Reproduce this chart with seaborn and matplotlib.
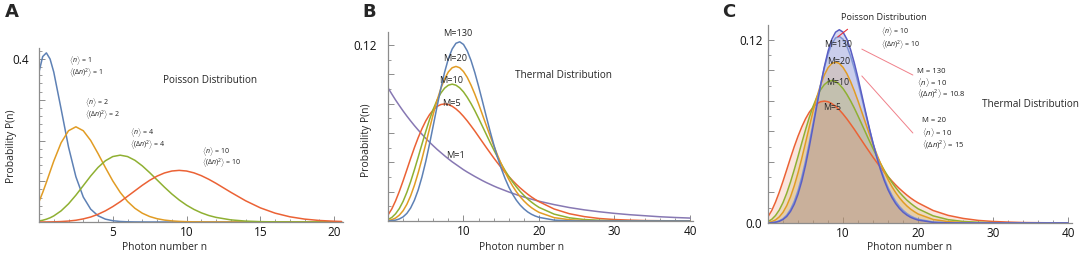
import numpy as np
import pandas as pd
import matplotlib
matplotlib.use("Agg")
import matplotlib.pyplot as plt
from matplotlib.ticker import MultipleLocator, FixedLocator
import seaborn as sns

# ---------------- data ----------------
n_a = [0, 0.25, 0.5, 0.75, 1, 1.5, 2, 2.5, 3, 3.5, 4, 4.5, 5, 5.5, 6, 6.5, 7, 7.5,
       8, 8.5, 9, 9.5, 10, 10.5, 11, 11.5, 12, 13, 14, 15, 16, 17, 18, 19, 20, 20.5]
pois_1 = [0.368, 0.406, 0.415, 0.400, 0.368, 0.277, 0.184, 0.111, 0.0613, 0.0316, 0.0153,
          0.0070, 0.0031, 0.0013, 0.0005, 0.0002, 0.0001] + [0.0] * 19
pois_2 = [0.0498, 0.0723, 0.0973, 0.1235, 0.1494, 0.1946, 0.2240, 0.2336, 0.2240, 0.2002,
          0.1680, 0.1335, 0.1008, 0.0728, 0.0504, 0.0336, 0.0216, 0.0134, 0.0081, 0.0047,
          0.0027, 0.0015, 0.0008, 0.0004, 0.0002, 0.0001, 0.0001] + [0.0] * 9
pois_4 = [0.0025, 0.0043, 0.0069, 0.0103, 0.0149, 0.0274, 0.0446, 0.0658, 0.0892, 0.1128,
          0.1339, 0.1503, 0.1606, 0.1640, 0.1606, 0.1514, 0.1377, 0.1211, 0.1033, 0.0855,
          0.0688, 0.0540, 0.0413, 0.0309, 0.0225, 0.0160, 0.0113, 0.0052, 0.0022, 0.0009,
          0.0003, 0.0001, 0.0, 0.0, 0.0, 0.0]
pois_10 = [0.00005, 0.0001, 0.00015, 0.0003, 0.00045, 0.0011, 0.0023, 0.0043, 0.0076, 0.0122,
           0.0189, 0.0274, 0.0378, 0.0497, 0.0631, 0.0766, 0.0901, 0.1023, 0.1126, 0.1203,
           0.1251, 0.1267, 0.1251, 0.1206, 0.1137, 0.1049, 0.0948, 0.0729, 0.0521, 0.0347,
           0.0217, 0.0128, 0.0071, 0.0037, 0.0019, 0.0013]

n_bc = [0, 0.5, 1, 1.5, 2, 2.5, 3, 3.5, 4, 4.5, 5, 5.5, 6, 6.5, 7, 7.5, 8, 8.5, 9, 9.5,
        10, 10.5, 11, 11.5, 12, 12.5, 13, 13.5, 14, 14.5, 15, 15.5, 16, 16.5, 17, 17.5,
        18, 18.5, 19, 19.5, 20, 22, 24, 26, 28, 30, 32, 34, 36, 38, 40]
therm_m1 = [0.0909, 0.0867, 0.0826, 0.0788, 0.0751, 0.0716, 0.0683, 0.0651, 0.0621, 0.0592,
            0.0564, 0.0538, 0.0513, 0.0489, 0.0467, 0.0445, 0.0424, 0.0404, 0.0386, 0.0368,
            0.0350, 0.0334, 0.0319, 0.0304, 0.0290, 0.0276, 0.0263, 0.0251, 0.0239, 0.0228,
            0.0218, 0.0208, 0.0198, 0.0189, 0.0180, 0.0171, 0.0164, 0.0156, 0.0149, 0.0142,
            0.0135, 0.0112, 0.0092, 0.0076, 0.0063, 0.0052, 0.0043, 0.0036, 0.0029, 0.0024, 0.0020]
therm_m5 = [0.0041, 0.0082, 0.0137, 0.0202, 0.0274, 0.0350, 0.0427, 0.0501, 0.0569, 0.0630,
            0.0683, 0.0726, 0.0759, 0.0782, 0.0795, 0.0799, 0.0795, 0.0783, 0.0765, 0.0742,
            0.0714, 0.0683, 0.0649, 0.0614, 0.0577, 0.0540, 0.0503, 0.0467, 0.0431, 0.0397,
            0.0364, 0.0333, 0.0304, 0.0276, 0.0250, 0.0226, 0.0204, 0.0183, 0.0164, 0.0147,
            0.0132, 0.0082, 0.0050, 0.0030, 0.0017, 0.0010, 0.0006, 0.0003, 0.0002, 0.0001, 0.0001]
therm_m10 = [0.0010, 0.0024, 0.0049, 0.0085, 0.0134, 0.0196, 0.0269, 0.0350, 0.0436, 0.0525,
             0.0611, 0.0692, 0.0764, 0.0825, 0.0873, 0.0907, 0.0927, 0.0934, 0.0927, 0.0909,
             0.0881, 0.0844, 0.0801, 0.0753, 0.0701, 0.0647, 0.0593, 0.0539, 0.0487, 0.0437,
             0.0390, 0.0345, 0.0304, 0.0267, 0.0233, 0.0202, 0.0175, 0.0150, 0.0129, 0.0110,
             0.0093, 0.0047, 0.0022, 0.0010, 0.0005, 0.0002, 0.0001, 0.0, 0.0, 0.0, 0.0]
therm_m20 = [0.0003, 0.0009, 0.0020, 0.0040, 0.0070, 0.0114, 0.0172, 0.0244, 0.0329, 0.0424,
             0.0526, 0.0630, 0.0731, 0.0824, 0.0904, 0.0970, 0.1018, 0.1046, 0.1055, 0.1046,
             0.1020, 0.0980, 0.0927, 0.0866, 0.0799, 0.0727, 0.0655, 0.0584, 0.0515, 0.0450,
             0.0389, 0.0334, 0.0284, 0.0239, 0.0200, 0.0166, 0.0137, 0.0112, 0.0091, 0.0074,
             0.0059, 0.0023, 0.0009, 0.0003, 0.0001, 0.0, 0.0, 0.0, 0.0, 0.0, 0.0]
therm_m130 = [0.0001, 0.0002, 0.0006, 0.0014, 0.0028, 0.0052, 0.0089, 0.0142, 0.0212, 0.0301,
              0.0406, 0.0525, 0.0653, 0.0782, 0.0906, 0.1016, 0.1108, 0.1174, 0.1213, 0.1223,
              0.1205, 0.1161, 0.1095, 0.1013, 0.0919, 0.0819, 0.0717, 0.0617, 0.0523, 0.0436,
              0.0359, 0.0291, 0.0232, 0.0183, 0.0142, 0.0109, 0.0083, 0.0062, 0.0046, 0.0034,
              0.0025, 0.0006, 0.0001, 0.0, 0.0, 0.0, 0.0, 0.0, 0.0, 0.0, 0.0]
poisson_c = [0.0, 0.0002, 0.0005, 0.0011, 0.0023, 0.0043, 0.0076, 0.0123, 0.0189, 0.0274,
             0.0378, 0.0499, 0.0631, 0.0767, 0.0901, 0.1023, 0.1126, 0.1204, 0.1251, 0.1267,
             0.1251, 0.1206, 0.1137, 0.1049, 0.0948, 0.0839, 0.0729, 0.0622, 0.0521, 0.0429,
             0.0347, 0.0277, 0.0217, 0.0168, 0.0128, 0.0096, 0.0071, 0.0052, 0.0037, 0.0027,
             0.0019, 0.0004, 0.0001, 0.0, 0.0, 0.0, 0.0, 0.0, 0.0, 0.0, 0.0]

labels_a = ["1", "2", "4", "10"]
labels_b = ["M=1", "M=5", "M=10", "M=20", "M=130"]

# ---------------- style ----------------
sns.set_style("ticks")
plt.rcParams["font.family"] = ["Open Sans", "DejaVu Sans"]
plt.rcParams["mathtext.fontset"] = "custom"
plt.rcParams["mathtext.rm"] = "Open Sans"
plt.rcParams["mathtext.it"] = "Open Sans:italic"

BLUE, ORANGE, GREEN, RED, PURPLE = "#5E81B5", "#E19C24", "#8FB032", "#EB6235", "#8778B3"
DEEP = "#5a5ec4"
AX = "#8c8c8c"

W, H = 1084, 258
fig = plt.figure(figsize=(W / 100, H / 100), dpi=100)


def add_ax(x0, x1, ybot, ytop):
    return fig.add_axes([x0 / W, 1 - ybot / H, (x1 - x0) / W, (ybot - ytop) / H])


def style(ax):
    sns.despine(ax=ax)
    for s in ("left", "bottom"):
        ax.spines[s].set_color(AX)
        ax.spines[s].set_linewidth(0.9)
    ax.tick_params(which="both", direction="in", color=AX, labelsize=8.5, labelcolor="#111")
    ax.tick_params(which="major", length=4, width=0.7)
    ax.tick_params(which="minor", length=2, width=0.6)
    ax.set_xlabel("")
    ax.set_ylabel("")


# ---------------- panel A ----------------
axA = add_ax(39, 343, 222, 48)
dfA = pd.DataFrame({
    "n": n_a * 4,
    "P": pois_1 + pois_2 + pois_4 + pois_10,
    "curve": sum([[l] * len(n_a) for l in labels_a], []),
})
sns.lineplot(data=dfA, x="n", y="P", hue="curve", hue_order=labels_a,
             palette=[BLUE, ORANGE, GREEN, RED], linewidth=1.1, legend=False,
             sort=True, ax=axA)
axA.set_xlim(0, 20.6)
axA.set_ylim(0, 0.427)
axA.xaxis.set_major_locator(FixedLocator([5, 10, 15, 20]))
axA.xaxis.set_minor_locator(MultipleLocator(1))
axA.yaxis.set_major_locator(FixedLocator([0.1, 0.2, 0.3, 0.4]))
axA.set_yticklabels(["", "", "", "0.4"])
axA.yaxis.set_minor_locator(MultipleLocator(0.02))
style(axA)
axA.tick_params(axis="y", pad=7)
axA.tick_params(axis="x", pad=3)

small = dict(fontsize=5, color="#222", va="center", ha="left")
for (xn, y1, y2, v) in [(2.03, 0.396, 0.366, "1"), (3.12, 0.294, 0.265, "2"),
                        (6.17, 0.219, 0.190, "4"), (11.04, 0.173, 0.145, "10")]:
    axA.text(xn, y1, r"$\langle n\rangle$ = " + v, **small)
    axA.text(xn, y2, r"$\langle(\Delta n)^2\rangle$ = " + v, **small)
axA.text(8.4, 0.348, "Poisson Distribution", fontsize=7.2, va="center", ha="left")

# ---------------- panel B ----------------
axB = add_ax(388, 693, 221, 32)
dfB = pd.DataFrame({
    "n": n_bc * 5,
    "P": therm_m1 + therm_m5 + therm_m10 + therm_m20 + therm_m130,
    "curve": sum([[l] * len(n_bc) for l in labels_b], []),
})
sns.lineplot(data=dfB, x="n", y="P", hue="curve", hue_order=labels_b,
             palette=[PURPLE, RED, GREEN, ORANGE, BLUE], linewidth=1.1, legend=False,
             sort=True, ax=axB)
axB.set_xlim(0, 40.4)
axB.set_ylim(0, 0.129)
axB.xaxis.set_major_locator(FixedLocator([10, 20, 30, 40]))
axB.xaxis.set_minor_locator(MultipleLocator(2))
axB.yaxis.set_major_locator(FixedLocator([0.02, 0.04, 0.06, 0.08, 0.10, 0.12]))
axB.set_yticklabels(["", "", "", "", "", "0.12"])
axB.yaxis.set_minor_locator(MultipleLocator(0.01))
style(axB)
axB.tick_params(axis="y", pad=8)
axB.tick_params(axis="x", pad=3)
for (xn, yv, t) in [(9.3, 0.128, "M=130"), (8.9, 0.111, "M=20"), (8.4, 0.096, "M=10"),
                    (8.4, 0.080, "M=5"), (9.0, 0.045, "M=1")]:
    axB.text(xn, yv, t, fontsize=6.6, ha="center", va="center", clip_on=False)
axB.text(16.8, 0.099, "Thermal Distribution", fontsize=7.2, va="center", ha="left")

# ---------------- panel C ----------------
axC = add_ax(768, 1072, 223, 25)
fills = [(poisson_c, "#9090d8", 0.34), (therm_m130, "#8ea2d8", 0.20),
         (therm_m20, ORANGE, 0.18), (therm_m10, GREEN, 0.16), (therm_m5, RED, 0.16)]
for vals, col, a in fills:
    axC.fill_between(n_bc, 0, vals, color=col, alpha=a, linewidth=0)
labels_c = ["M=5", "M=10", "M=20", "M=130", "Poisson"]
dfC = pd.DataFrame({
    "n": n_bc * 5,
    "P": therm_m5 + therm_m10 + therm_m20 + therm_m130 + poisson_c,
    "curve": sum([[l] * len(n_bc) for l in labels_c], []),
})
sns.lineplot(data=dfC, x="n", y="P", hue="curve", hue_order=labels_c,
             palette=[RED, GREEN, ORANGE, "#7f95d6", DEEP], linewidth=1.1, legend=False,
             sort=True, ax=axC)
axC.set_xlim(0, 40.5)
axC.set_ylim(0, 0.1298)
axC.xaxis.set_major_locator(FixedLocator([10, 20, 30, 40]))
axC.xaxis.set_minor_locator(MultipleLocator(2))
axC.yaxis.set_major_locator(FixedLocator([0.0, 0.02, 0.04, 0.06, 0.08, 0.10, 0.12]))
axC.set_yticklabels(["0.0", "", "", "", "", "", "0.12"])
axC.yaxis.set_minor_locator(MultipleLocator(0.01))
style(axC)
axC.tick_params(axis="y", pad=4)
axC.tick_params(axis="x", pad=3)
for (xn, yv, t) in [(9.4, 0.117, "M=130"), (9.4, 0.106, "M=20"), (9.3, 0.092, "M=10"),
                    (8.6, 0.076, "M=5")]:
    axC.text(xn, yv, t, fontsize=6.3, ha="center", va="center")
axC.text(15.5, 0.1345, "Poisson Distribution", fontsize=6.6, ha="center", va="center", clip_on=False)
axC.plot([9.3, 10.6], [0.122, 0.127], color="#e8303a", lw=0.8, clip_on=False)
axC.text(15.1, 0.1258, r"$\langle n\rangle$ = 10", **small)
axC.text(15.1, 0.1172, r"$\langle(\Delta n)^2\rangle$ = 10", **small)
mid = dict(fontsize=5.5, color="#222", va="center", ha="left")
axC.text(19.9, 0.099, "M = 130", **mid)
axC.text(19.9, 0.0922, r"$\langle n\rangle$ = 10", **mid)
axC.text(19.9, 0.0850, r"$\langle(\Delta n)^2\rangle$ = 10.8", **mid)
axC.text(20.5, 0.0669, "M = 20", **mid)
axC.text(20.5, 0.0592, r"$\langle n\rangle$ = 10", **mid)
axC.text(20.5, 0.0512, r"$\langle(\Delta n)^2\rangle$ = 15", **mid)
axC.plot([12.5, 19.3], [0.114, 0.097], color="#f0808a", lw=0.7)
axC.plot([12.5, 19.3], [0.0964, 0.059], color="#f0808a", lw=0.7)
axC.text(28.5, 0.078, "Thermal Distribution", fontsize=7.2, va="center", ha="left")

# ---------------- figure texts ----------------
for x, t in [(5, "A"), (362, "B"), (722, "C")]:
    fig.text(x / W, 1 - 12 / H, t, fontsize=13, fontweight="bold", ha="left", va="center",
             family="DejaVu Sans")
fig.text(12 / W, 1 - 146 / H, "Probability P(n)", rotation=90, fontsize=7.5, ha="center", va="center")
fig.text(367 / W, 1 - 140 / H, "Probability P(n)", rotation=90, fontsize=7.5, ha="center", va="center")
for x in (165, 522, 910):
    fig.text(x / W, 1 - 248 / H, "Photon number n", fontsize=7.4, ha="center", va="center")

fig.savefig("out.png", dpi=100)
